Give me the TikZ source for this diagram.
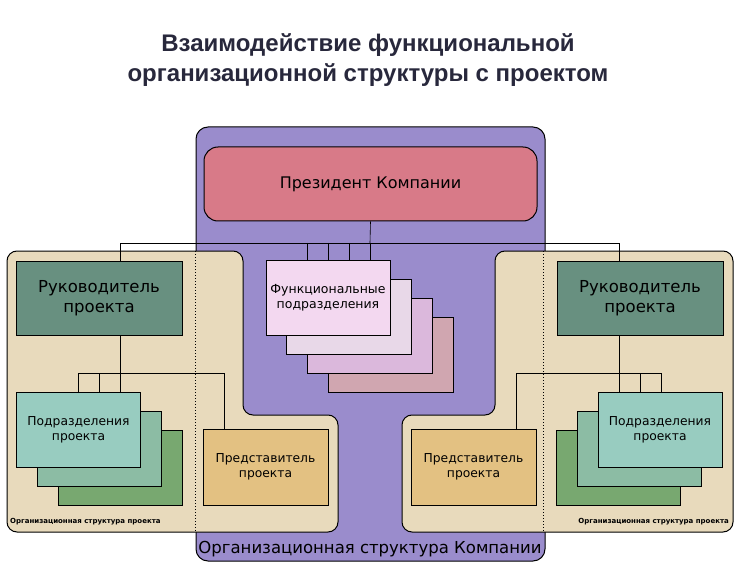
\documentclass[tikz,border=0pt]{standalone}
\usepackage{fontspec}
\setmainfont{DejaVu Sans}
\newfontfamily\titlefont{Liberation Sans}
\begin{document}
\begin{tikzpicture}[x=1pt,y=-1pt,
  box/.style={draw=black,line width=1pt},
  conn/.style={draw=black,line width=0.6pt},
  lbl/.style={align=center,inner sep=0pt,font=\fontsize{12.3}{14.5}\selectfont},
  big/.style={align=center,inner sep=0pt,font=\fontsize{16.5}{20}\selectfont}]
\useasboundingbox (0,0) rectangle (737,567);
\fill[white] (0,0) rectangle (737,567);
\node[text={rgb,255:red,40;green,40;blue,60},font=\titlefont\bfseries\fontsize{24}{30}\selectfont,align=center] (title) at (368,60) {Взаимодействие функциональной\\организационной структуры с проектом};
% purple
\draw[fill={rgb,255:red,154;green,140;blue,204},line width=1pt,rounded corners=12] (196,127) rectangle (545,561);
\node[big,anchor=base] (org) at (370,553) {Организационная структура Компании};
% beige panels
\draw[fill={rgb,255:red,232;green,218;blue,188},line width=1pt,rounded corners=10]
  (7,251) -- (243,251) -- (243,415) -- (338,415) -- (338,532) -- (7,532) -- cycle;
\draw[fill={rgb,255:red,232;green,218;blue,188},line width=1pt,rounded corners=10]
  (733,251) -- (495,251) -- (495,415) -- (402,415) -- (402,532) -- (733,532) -- cycle;
\draw[dotted,line width=1pt] (195,251) -- (195,532);
\draw[dotted,line width=1pt] (543,251) -- (543,532);
% president
\node[box,fill={rgb,255:red,216;green,122;blue,136},rounded corners=14,minimum width=333,minimum height=74,font=\fontsize{16}{19}\selectfont] (pres) at (370.5,184) {Президент Компании};
% functional stack
\foreach \i/\c in {3/{rgb,255:red,208;green,166;blue,176},2/{rgb,255:red,219;green,184;blue,220},1/{rgb,255:red,232;green,216;blue,232}}{
  \node[box,fill=\c,minimum width=125,minimum height=75] (f\i) at (328+21*\i,297.5+19*\i) {};}
\node[box,fill={rgb,255:red,243;green,216;blue,240},minimum width=124,minimum height=75,lbl,font=\fontsize{12.5}{15}\selectfont] (f0) at (328,297.5) {Функциональные\\подразделения};
% left
\node[box,fill={rgb,255:red,104;green,144;blue,128},minimum width=166,minimum height=74,big] (rl) at (99,298) {Руководитель\\проекта};
\foreach \i/\c in {2/{rgb,255:red,120;green,168;blue,112},1/{rgb,255:red,140;green,188;blue,164}}{
  \node[box,fill=\c,minimum width=124,minimum height=75] (pl\i) at (78.5+21*\i,430+19*\i) {};}
\node[box,fill={rgb,255:red,152;green,204;blue,192},minimum width=124,minimum height=75,lbl] (pl0) at (78.5,430) {Подразделения\\проекта};
\node[box,fill={rgb,255:red,227;green,193;blue,130},minimum width=125,minimum height=76,lbl] (dl) at (265.5,467) {Представитель\\проекта};
\node[anchor=west,inner sep=0pt,font=\bfseries\fontsize{7}{8}\selectfont] (capl) at (10,522) {Организационная структура проекта};
% right
\node[box,fill={rgb,255:red,104;green,144;blue,128},minimum width=166,minimum height=74,big] (rr) at (640,298) {Руководитель\\проекта};
\foreach \i/\c in {2/{rgb,255:red,120;green,168;blue,112},1/{rgb,255:red,140;green,188;blue,164}}{
  \node[box,fill=\c,minimum width=124,minimum height=75] (pr\i) at (660-21*\i,430+19*\i) {};}
\node[box,fill={rgb,255:red,152;green,204;blue,192},minimum width=124,minimum height=75,lbl] (pr0) at (660,430) {Подразделения\\проекта};
\node[box,fill={rgb,255:red,227;green,193;blue,130},minimum width=125,minimum height=76,lbl] (dr) at (473.5,467) {Представитель\\проекта};
\node[anchor=east,inner sep=0pt,font=\bfseries\fontsize{7}{8}\selectfont] (capr) at (729,522) {Организационная структура проекта};
% connectors top
\coordinate (hl) at (120,243);
\coordinate (hr) at (619,243);
\draw[conn] (pres.south) -- (370,243);
\draw[conn] (rl.north -| hl) -- (hl) -- (hr) -- (rr.north -| hr);
\foreach \x in {307,328,349}{\draw[conn] (\x,243) -- (\x,260);}
\draw[conn] (370,243) -- (370,260);
% left lower
\draw[conn] (120,335) -- (120,373);
\draw[conn] (78,393) -- (78,373) -- (224,373) -- (224,429);
\draw[conn] (99,373) -- (99,393); \draw[conn] (120,373) -- (120,393);
% right lower
\draw[conn] (619,335) -- (619,393);
\draw[conn] (661,393) -- (661,373) -- (516,373) -- (516,429);
\draw[conn] (640,373) -- (640,393);
\end{tikzpicture}
\end{document}
